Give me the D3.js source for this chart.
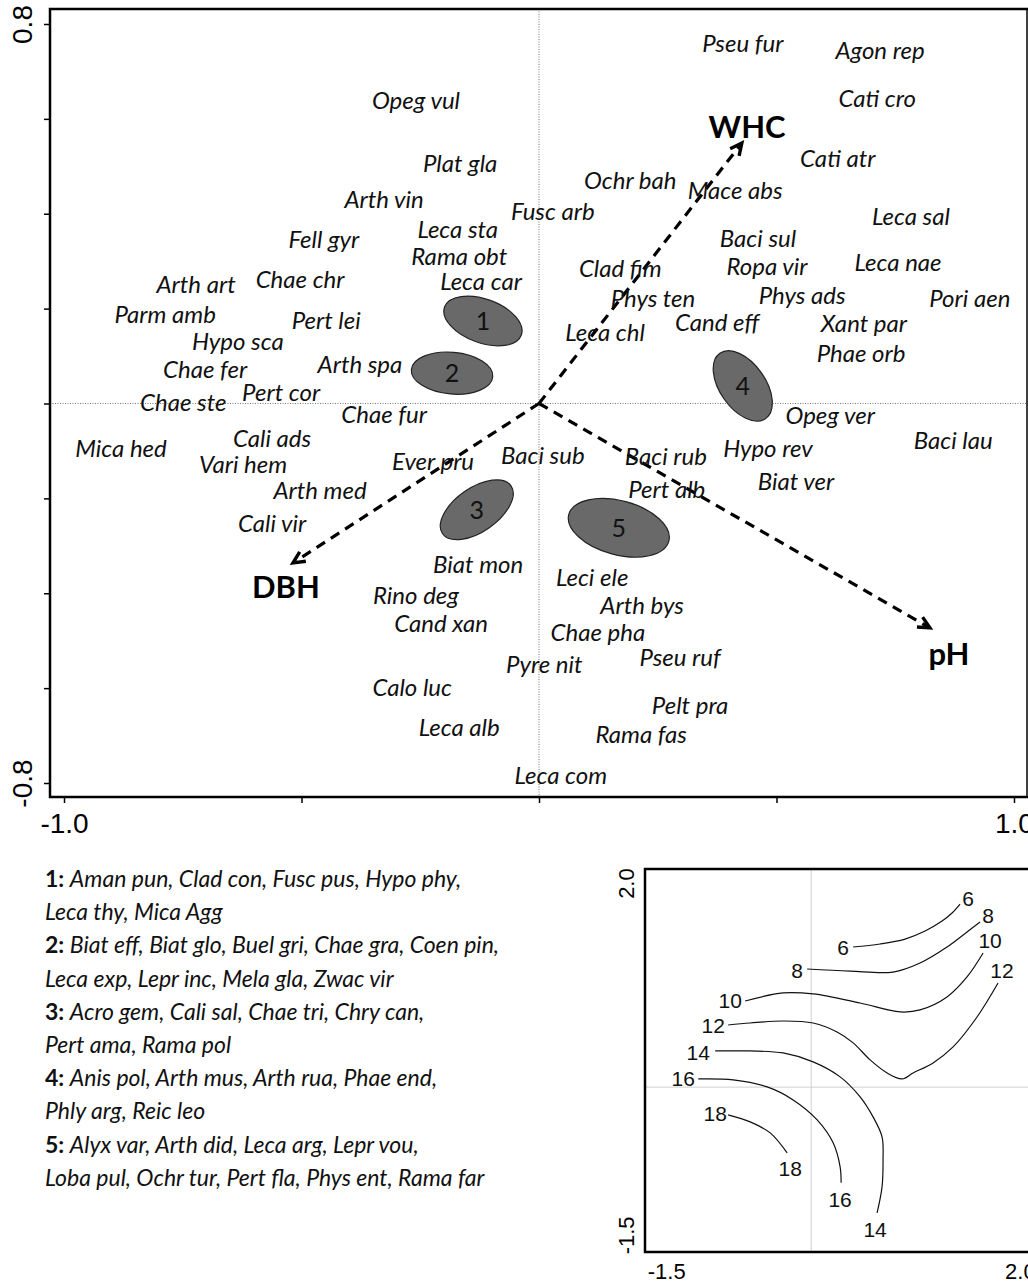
<!DOCTYPE html>
<html>
<head>
<meta charset="utf-8">
<script src="https://cdn.jsdelivr.net/npm/d3@7"></script>
<style>
  body { margin: 0; background: #fff; }
  svg { display: block; }
</style>
</head>
<body>
<svg id="chart" width="1028" height="1283"></svg>
<script>
// ---- Ordination: species scores on axes 1 and 2 ----
const speciesScores = [
  ["Opeg vul", -0.259, 0.640], ["Plat gla", -0.166, 0.507], ["Arth vin", -0.326, 0.431],
  ["Leca sta", -0.171, 0.368], ["Fusc arb", 0.029, 0.404], ["Fell gyr", -0.453, 0.345],
  ["Rama obt", -0.168, 0.311], ["Arth art", -0.722, 0.252], ["Chae chr", -0.503, 0.262],
  ["Leca car", -0.122, 0.258], ["Parm amb", -0.787, 0.187], ["Pert lei", -0.448, 0.176],
  ["Hypo sca", -0.634, 0.130], ["Arth spa", -0.377, 0.083], ["Chae fer", -0.703, 0.073],
  ["Pert cor", -0.543, 0.024], ["Chae ste", -0.749, 0.003], ["Chae fur", -0.326, -0.022],
  ["Cali ads", -0.562, -0.073], ["Mica hed", -0.880, -0.094], ["Vari hem", -0.623, -0.128],
  ["Ever pru", -0.223, -0.123], ["Baci sub", 0.008, -0.109], ["Arth med", -0.461, -0.184],
  ["Cali vir", -0.562, -0.252], ["Biat mon", -0.128, -0.340], ["Rino deg", -0.259, -0.404],
  ["Cand xan", -0.206, -0.463], ["Calo luc", -0.267, -0.598], ["Leca alb", -0.168, -0.682],
  ["Leca com", 0.046, -0.783],
  ["Pseu fur", 0.429, 0.760], ["Agon rep", 0.718, 0.745], ["Cati cro", 0.712, 0.644],
  ["Cati atr", 0.629, 0.517], ["Ochr bah", 0.192, 0.471], ["Mace abs", 0.413, 0.450],
  ["Leca sal", 0.783, 0.395], ["Baci sul", 0.461, 0.349], ["Clad fim", 0.171, 0.284],
  ["Ropa vir", 0.480, 0.290], ["Leca nae", 0.756, 0.298], ["Phys ten", 0.240, 0.222],
  ["Phys ads", 0.554, 0.227], ["Pori aen", 0.907, 0.222], ["Cand eff", 0.375, 0.170],
  ["Xant par", 0.684, 0.168], ["Leca chl", 0.139, 0.149], ["Phae orb", 0.678, 0.106],
  ["Opeg ver", 0.613, -0.026], ["Baci lau", 0.872, -0.077], ["Baci rub", 0.267, -0.111],
  ["Hypo rev", 0.482, -0.094], ["Pert alb", 0.269, -0.180], ["Biat ver", 0.541, -0.165],
  ["Leci ele", 0.112, -0.366], ["Arth bys", 0.217, -0.425], ["Chae pha", 0.124, -0.482],
  ["Pseu ruf", 0.297, -0.536], ["Pyre nit", 0.011, -0.549], ["Pelt pra", 0.318, -0.636],
  ["Rama fas", 0.215, -0.697]
];

// ---- Environmental vectors (biplot arrows) ----
const envNames  = ["WHC", "DBH", "pH"];
const envX      = [0.427, -0.518, 0.823];
const envY      = [0.549, -0.336, -0.473];
const envLabelX = [0.438, -0.533, 0.863];
const envLabelY = [0.583, -0.386, -0.527];

// ---- Species groups drawn as ellipses ----
const groupIds    = [1, 2, 3, 4, 5];
const groupX      = [-0.118, -0.183, -0.131, 0.429, 0.168];
const groupY      = [0.174, 0.064, -0.224, 0.037, -0.262];
const groupRadiusA = [0.086, 0.086, 0.088, 0.084, 0.109];
const groupRadiusB = [0.046, 0.044, 0.046, 0.048, 0.057];
const groupAngle  = [20, 5, -35, 55, 15];
const groupMembers = [
  ["Aman pun, Clad con, Fusc pus, Hypo phy,", "Leca thy, Mica Agg"],
  ["Biat eff, Biat glo, Buel gri, Chae gra, Coen pin,", "Leca exp, Lepr inc, Mela gla, Zwac vir"],
  ["Acro gem, Cali sal, Chae tri, Chry can,", "Pert ama, Rama pol"],
  ["Anis pol, Arth mus, Arth rua, Phae end,", "Phly arg, Reic leo"],
  ["Alyx var, Arth did, Leca arg, Lepr vou,", "Loba pul, Ochr tur, Pert fla, Phys ent, Rama far"]
];

// ---- Axis ticks ----
const mainXLabelTicks = [-1.0, 1.0];
const mainYLabelTicks = [-0.8, 0.8];
const mainXMinorTicks = [-0.5, 0, 0.5];
const mainYMinorTicks = [-0.6, -0.4, -0.2, 0, 0.2, 0.4, 0.6];
const insetXTicks = [-1.5, 2.0];
const insetYTicks = [-1.5, 2.0];
const insetRefX = -0.065;
const insetRefY = -0.03;

// ---- Fitted surface contours (inset) ----
const contourLevels = [6, 8, 10, 12, 14, 16, 18];
const contour6  = [[0.350,1.364],[0.617,1.394],[0.864,1.443],[1.062,1.523],[1.230,1.622],[1.329,1.702],[1.408,1.791]];
const contour8  = [[-0.105,1.145],[0.320,1.125],[0.745,1.115],[1.012,1.205],[1.279,1.364],[1.477,1.513],[1.606,1.612]];
const contour10 = [[-0.719,0.827],[-0.343,0.907],[-0.046,0.897],[0.419,0.807],[0.815,0.718],[1.012,0.738],[1.279,0.867],[1.477,1.066],[1.636,1.304]];
const contour12 = [[-0.887,0.588],[-0.669,0.608],[-0.343,0.628],[-0.046,0.608],[0.191,0.519],[0.350,0.410],[0.518,0.241],[0.686,0.111],[0.834,0.052],[0.943,0.111],[1.141,0.211],[1.339,0.370],[1.576,0.668],[1.784,1.006]];
const contour14 = [[-1.015,0.330],[-0.669,0.330],[-0.343,0.310],[-0.046,0.221],[0.221,0.072],[0.419,-0.127],[0.547,-0.326],[0.636,-0.525],[0.646,-0.753],[0.636,-1.022],[0.587,-1.280]];
const contour16 = [[-1.183,0.052],[-0.837,0.042],[-0.501,-0.028],[-0.244,-0.157],[-0.006,-0.356],[0.152,-0.584],[0.221,-0.823],[0.231,-0.982]];
const contour18 = [[-0.887,-0.306],[-0.669,-0.376],[-0.471,-0.485],[-0.303,-0.684]];
const contourLines = [contour6, contour8, contour10, contour12, contour14, contour16, contour18];
// label positions at both ends of each contour
const contourLabelStart = [[0.251,1.364],[-0.204,1.135],[-0.867,0.837],[-1.035,0.588],[-1.183,0.320],[-1.332,0.052],[-1.015,-0.296]];
const contourLabelEnd   = [[1.487,1.851],[1.685,1.682],[1.705,1.433],[1.823,1.135],[0.567,-1.449],[0.221,-1.151],[-0.273,-0.843]];

// ---------------------------------------------------------------
const svg = d3.select("#chart");
const labelFont = "Lato, 'Open Sans', sans-serif";
const axisFont  = "'Liberation Sans', Arial, sans-serif";
const fmt1 = d => d.toFixed(1);   // plain hyphen for negatives

// main ordination panel
const main = { left: 50, top: 9, right: 1028, bottom: 797 };
const x = d3.scaleLinear().domain([-1.0295, 1.0295]).range([main.left, main.right]);
const y = d3.scaleLinear().domain([-0.8295, 0.8316]).range([main.bottom, main.top]);

const gMain = svg.append("g");

// reference lines through the origin
gMain.append("line")
  .attr("x1", x(0)).attr("x2", x(0)).attr("y1", main.top).attr("y2", main.bottom)
  .attr("stroke", "#777").attr("stroke-width", 1).attr("stroke-dasharray", "1,1.5");
gMain.append("line")
  .attr("x1", main.left).attr("x2", main.right).attr("y1", y(0)).attr("y2", y(0))
  .attr("stroke", "#777").attr("stroke-width", 1).attr("stroke-dasharray", "1,1.5");

// axes (ticks outward, labels only at the ends)
const xAxisMain = d3.axisBottom(x).tickValues(mainXLabelTicks.concat(mainXMinorTicks))
  .tickSize(6).tickFormat(d => mainXLabelTicks.includes(d) ? fmt1(d) : "");
const gx = gMain.append("g").attr("transform", `translate(0,${main.bottom})`).call(xAxisMain);
gx.select(".domain").remove();
gx.selectAll(".tick line").attr("stroke", "#000").attr("stroke-width", 1.5);
gx.selectAll(".tick text").attr("font-family", axisFont).attr("font-size", 28)
  .attr("fill", "#000").attr("dy", "0.95em");

const yAxisMain = d3.axisLeft(y).tickValues(mainYLabelTicks.concat(mainYMinorTicks))
  .tickSize(6).tickFormat(d => mainYLabelTicks.includes(d) ? fmt1(d) : "");
const gy = gMain.append("g").attr("transform", `translate(${main.left},0)`).call(yAxisMain);
gy.select(".domain").remove();
gy.selectAll(".tick line").attr("stroke", "#000").attr("stroke-width", 1.5);
gy.selectAll(".tick text").attr("font-family", axisFont).attr("font-size", 28)
  .attr("fill", "#000").attr("text-anchor", "middle").attr("dy", 0).attr("x", 0)
  .attr("transform", "translate(-18,0) rotate(-90)");

// frame
gMain.append("path")
  .attr("d", `M${main.right + 4},${main.top}H${main.left}V${main.bottom}H${main.right + 4}`)
  .attr("fill", "none").attr("stroke", "#000").attr("stroke-width", 2.5);
gMain.append("line")
  .attr("x1", main.right - 1).attr("x2", main.right - 1).attr("y1", main.top).attr("y2", main.bottom)
  .attr("stroke", "#000").attr("stroke-width", 1.5);

// group ellipses
const groups = groupIds.map((id, i) => ({
  id, cx: groupX[i], cy: groupY[i], a: groupRadiusA[i], b: groupRadiusB[i], angle: groupAngle[i]
}));
const pxPerUnit = x(1) - x(0);
const gG = gMain.selectAll("g.group").data(groups).join("g").attr("class", "group")
  .attr("transform", d => `translate(${x(d.cx)},${y(d.cy)})`);
gG.append("ellipse")
  .attr("rx", d => d.a * pxPerUnit).attr("ry", d => d.b * pxPerUnit)
  .attr("transform", d => `rotate(${d.angle})`)
  .attr("fill", "#696969").attr("stroke", "#222").attr("stroke-width", 1.2);
gG.append("text").text(d => d.id)
  .attr("text-anchor", "middle").attr("dy", "0.36em")
  .attr("font-family", labelFont).attr("font-size", 25).attr("fill", "#111");

// environmental arrows (dashed)
const env = envNames.map((n, i) => ({ name: n, x: envX[i], y: envY[i], lx: envLabelX[i], ly: envLabelY[i] }));
const gA = gMain.append("g");
env.forEach(d => {
  const x0 = x(0), y0 = y(0), x1 = x(d.x), y1 = y(d.y);
  gA.append("line").attr("x1", x0).attr("y1", y0).attr("x2", x1).attr("y2", y1)
    .attr("stroke", "#000").attr("stroke-width", 3.2).attr("stroke-dasharray", "10,7");
  const ang = Math.atan2(y1 - y0, x1 - x0);
  const len = 13, spread = 0.45;
  const head = [
    [x1 - len * Math.cos(ang - spread), y1 - len * Math.sin(ang - spread)],
    [x1, y1],
    [x1 - len * Math.cos(ang + spread), y1 - len * Math.sin(ang + spread)]
  ];
  gA.append("path").attr("d", d3.line()(head))
    .attr("fill", "none").attr("stroke", "#000").attr("stroke-width", 3.4)
    .attr("stroke-linejoin", "miter");
  gA.append("text").text(d.name)
    .attr("x", x(d.lx)).attr("y", y(d.ly)).attr("dy", "0.36em")
    .attr("text-anchor", "middle").attr("font-family", labelFont)
    .attr("font-weight", 700).attr("font-size", 31).attr("fill", "#000");
});

// species labels
gMain.append("g").selectAll("text").data(speciesScores).join("text")
  .text(d => d[0])
  .attr("x", d => x(d[1])).attr("y", d => y(d[2])).attr("dy", "0.36em")
  .attr("text-anchor", "middle").attr("font-family", labelFont)
  .attr("font-style", "italic").attr("font-size", 24).attr("fill", "#111");

// group membership legend
const legend = svg.append("g").attr("transform", "translate(45,887)");
const lineStep = 33.2;
groupMembers.forEach((lines, i) => {
  lines.forEach((ln, j) => {
    const t = legend.append("text").attr("x", 0).attr("y", (i * 2 + j) * lineStep)
      .attr("font-family", labelFont).attr("font-size", 23).attr("fill", "#111");
    if (j === 0) t.append("tspan").attr("font-weight", 700).text(groupIds[i] + ": ");
    t.append("tspan").attr("font-style", "italic").text(ln);
  });
});

// ---- inset: fitted surface of a variable over the ordination ----
const inset = { left: 645, top: 869, right: 1033, bottom: 1252 };
const xi = d3.scaleLinear().domain([-1.71, 2.13]).range([inset.left, inset.right]);
const yi = d3.scaleLinear().domain([-1.67, 2.14]).range([inset.bottom, inset.top]);
const gI = svg.append("g");

gI.append("rect").attr("x", inset.left).attr("y", inset.top)
  .attr("width", inset.right - inset.left).attr("height", inset.bottom - inset.top)
  .attr("fill", "#fff");
gI.append("line").attr("x1", xi(insetRefX)).attr("x2", xi(insetRefX))
  .attr("y1", inset.top).attr("y2", inset.bottom).attr("stroke", "#d0d0d0").attr("stroke-width", 1);
gI.append("line").attr("x1", inset.left).attr("x2", inset.right)
  .attr("y1", yi(insetRefY)).attr("y2", yi(insetRefY)).attr("stroke", "#d0d0d0").attr("stroke-width", 1);

const contourLine = d3.line().x(d => xi(d[0])).y(d => yi(d[1])).curve(d3.curveCatmullRom.alpha(0.5));
contourLines.forEach((pts, i) => {
  gI.append("path").attr("d", contourLine(pts))
    .attr("fill", "none").attr("stroke", "#111").attr("stroke-width", 1.2);
  [contourLabelStart[i], contourLabelEnd[i]].forEach(p => {
    gI.append("text").text(contourLevels[i])
      .attr("x", xi(p[0])).attr("y", yi(p[1])).attr("dy", "0.36em")
      .attr("text-anchor", "middle").attr("font-family", axisFont)
      .attr("font-size", 21).attr("fill", "#111");
  });
});

const xAxisInset = d3.axisBottom(xi).tickValues(insetXTicks).tickSize(0).tickFormat(fmt1);
const gxi = gI.append("g").attr("transform", `translate(0,${inset.bottom})`).call(xAxisInset);
gxi.select(".domain").remove();
gxi.selectAll(".tick text").attr("font-family", axisFont).attr("font-size", 22)
  .attr("fill", "#000").attr("dy", "1.1em");

const yAxisInset = d3.axisLeft(yi).tickValues(insetYTicks).tickSize(0).tickFormat(fmt1);
const gyi = gI.append("g").attr("transform", `translate(${inset.left},0)`).call(yAxisInset);
gyi.select(".domain").remove();
gyi.selectAll(".tick text").attr("font-family", axisFont).attr("font-size", 22)
  .attr("fill", "#000").attr("text-anchor", "middle").attr("dy", 0).attr("x", 0)
  .attr("transform", "translate(-11,0) rotate(-90)");

gI.append("path")
  .attr("d", `M${inset.right},${inset.top}H${inset.left}V${inset.bottom}H${inset.right}`)
  .attr("fill", "none").attr("stroke", "#000").attr("stroke-width", 2.5);
</script>
</body>
</html>
